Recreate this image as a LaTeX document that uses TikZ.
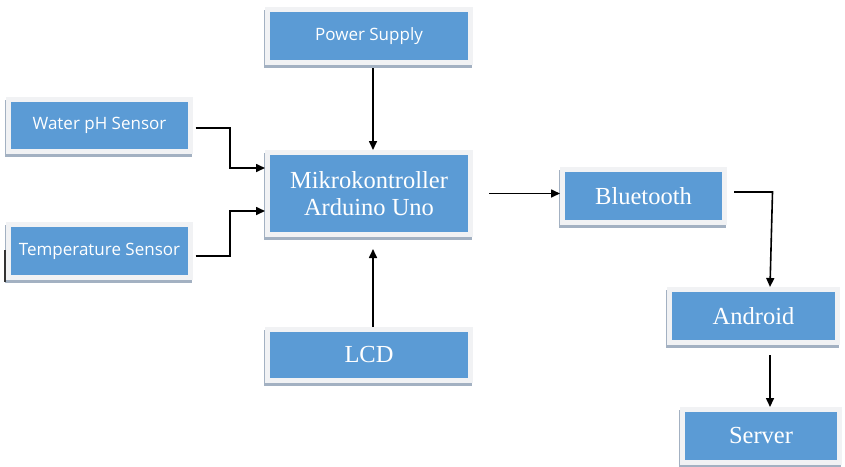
\documentclass[tikz,border=0pt]{standalone}
\usepackage{fontspec}
\setmainfont{Liberation Serif}
\newfontfamily\uisans{Open Sans}
\usetikzlibrary{arrows.meta,calc}
\definecolor{boxblue}{HTML}{5B9BD5}
\definecolor{framecol}{HTML}{F1F2F4}
\definecolor{shadowcol}{HTML}{A3B1C2}
\tikzset{
  blk/.style={fill=boxblue, draw=framecol, line width=5pt, text=white, align=center, inner sep=0pt,
    preaction={draw=shadowcol, fill=shadowcol, line width=5pt, transform canvas={shift={(-1.5pt,-3pt)}}}},
  sanslbl/.style={font=\uisans\fontsize{17}{20}\selectfont},
  seriflbl/.style={font=\fontsize{24.5}{27}\selectfont},
  arr/.style={draw=black, line width=1.6pt, -{Triangle[length=9pt,width=8pt]}},
}
\begin{document}
\begin{tikzpicture}[x=1pt,y=-1pt]
\useasboundingbox[fill=white] (0,0) rectangle (845,466);
\node[blk, sanslbl, minimum width=203pt, minimum height=53pt] (power) at (369,36) {Power Supply};
\node[blk, sanslbl, minimum width=182pt, minimum height=52pt] (water) at (99.5,125.5) {Water pH Sensor};
\node[blk, sanslbl, minimum width=182pt, minimum height=53pt] (temp) at (99.5,251) {Temperature Sensor};
\node[blk, seriflbl, minimum width=203pt, minimum height=82pt] (mcu) at (369,193.5) {Mikrokontroller\\Arduino Uno};
\node[blk, seriflbl, minimum width=162pt, minimum height=53pt] (bt) at (643.5,196) {Bluetooth};
\node[blk, seriflbl, minimum width=168pt, minimum height=53pt] (android) at (753.5,316) {Android};
\node[blk, seriflbl, minimum width=157pt, minimum height=53pt] (server) at (761,436) {Server};
\node[blk, seriflbl, minimum width=203pt, minimum height=51pt] (lcd) at (369,355) {LCD};
\coordinate (stray1) at (5,250);
\coordinate (stray2) at (5,282);
\draw[line width=1.2pt, black!80] (stray1) -- (stray2);
% connectors
\draw[arr, shorten <=3pt] ([xshift=4pt]power.south) -- ([xshift=4pt]mcu.north);
\draw[arr, shorten <=2.5pt] ([yshift=-2.5pt]water.east) -- ++(37,0) |- ([yshift=25.5pt]mcu.west);
\draw[arr, shorten <=2.5pt] ([yshift=-5pt]temp.east) -- ++(37,0) |- ([yshift=-17.5pt]mcu.west);
\draw[arr, shorten <=16pt] (mcu.east) -- (mcu.east -| bt.west);
\draw[arr, shorten <=7pt] ([yshift=4pt]bt.east) -- ++(45.5,0) -- ([xshift=16.5pt]android.north);
\draw[arr, shorten <=10pt] ([xshift=16.5pt]android.south) -- ([xshift=16.5pt]android.south |- server.north);
\draw[arr, shorten >=12pt] ([xshift=4pt]lcd.north) -- ([xshift=4pt]mcu.south);
\end{tikzpicture}
\end{document}
